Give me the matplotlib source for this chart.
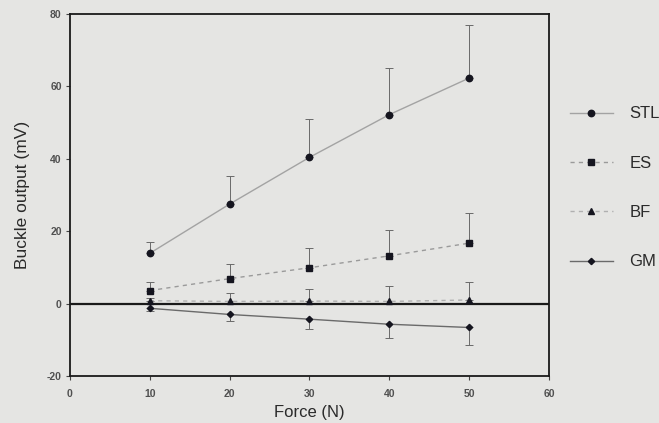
import numpy as np
import matplotlib
matplotlib.use("Agg")
import matplotlib.pyplot as plt

plt.rcParams['font.family'] = ['Liberation Sans', 'DejaVu Sans']
plt.rcParams['axes.unicode_minus'] = False

# data
force = [10, 20, 30, 40, 50]
stl = [13.9, 27.5, 40.4, 52.2, 62.3]
stl_err = [3.2, 7.7, 10.5, 12.8, 14.7]
es = [3.6, 6.9, 9.9, 13.2, 16.7]
es_err = [2.3, 4.0, 5.5, 7.1, 8.2]
bf = [0.8, 0.6, 0.7, 0.6, 1.0]
bf_err = [0.8, 2.2, 3.3, 4.4, 5.0]
gm = [-1.3, -3.0, -4.3, -5.7, -6.6]
gm_err = [0.8, 1.8, 2.8, 3.9, 4.8]

labels = ["STL", "ES", "BF", "GM"]
xticks = [0, 10, 20, 30, 40, 50, 60]
yticks = [-20, 0, 20, 40, 60, 80]

bg = "#e5e5e3"
mk = "#15151f"

fig = plt.figure(figsize=(6.59, 4.23), dpi=100, facecolor=bg)
ax = fig.add_axes([0.1062, 0.1111, 0.7268, 0.8558], facecolor=bg)

# error bars are one-sided (up for positive series, down for GM)
ekw = dict(fmt="none", ecolor="#6a6a6a", elinewidth=0.7, capsize=3, capthick=0.7)
ax.errorbar(force, stl, yerr=[np.zeros(5), stl_err], **ekw)
ax.errorbar(force, es, yerr=[np.zeros(5), es_err], **ekw)
ax.errorbar(force, bf, yerr=[np.zeros(5), bf_err], **ekw)
ax.errorbar(force, gm, yerr=[gm_err, np.zeros(5)], **ekw)

h1, = ax.plot(force, stl, color="#a3a3a3", lw=1.0, marker="o", ms=4.6,
              mfc=mk, mec=mk, label=labels[0])
h2, = ax.plot(force, es, color="#9a9a9a", lw=1.0, ls=(0, (3, 3)), marker="s", ms=4.4,
              mfc=mk, mec=mk, label=labels[1])
h3, = ax.plot(force, bf, color="#b0b0b0", lw=1.0, ls=(0, (3, 3)), marker="^", ms=4.4,
              mfc=mk, mec=mk, label=labels[2])
h4, = ax.plot(force, gm, color="#6a6a6a", lw=1.0, marker="D", ms=3.2,
              mfc=mk, mec=mk, label=labels[3])

ax.axhline(0, color="#1a1a1a", lw=1.6, zorder=1)

ax.set_xlim(0, 60)
ax.set_ylim(-20, 80)
ax.set_xticks(xticks)
ax.set_yticks(yticks)
ax.tick_params(direction="out", length=3, width=0.8, color="#444444")
ax.tick_params(axis="x", pad=6)
ax.tick_params(axis="y", pad=3)
for lab in ax.get_xticklabels() + ax.get_yticklabels():
    lab.set_fontsize(7.5)
    lab.set_fontweight("bold")
    lab.set_color("#505050")
for s in ax.spines.values():
    s.set_color("#1a1a1a")
    s.set_linewidth(1.3)

ax.set_xlabel("Force (N)", fontsize=12, color="#2a2a2a", labelpad=5)
ax.set_ylabel("Buckle output (mV)", fontsize=12.5, color="#2a2a2a", labelpad=12)

leg = fig.legend(handles=[h1, h2, h3, h4], loc="upper left",
                 bbox_to_anchor=(0.852, 0.768), frameon=False, fontsize=12,
                 labelspacing=2.06, handlelength=2.58, handletextpad=1.0,
                 borderpad=0, labelcolor="#2a2a2a")

fig.savefig("out.png", dpi=100, facecolor=bg)
